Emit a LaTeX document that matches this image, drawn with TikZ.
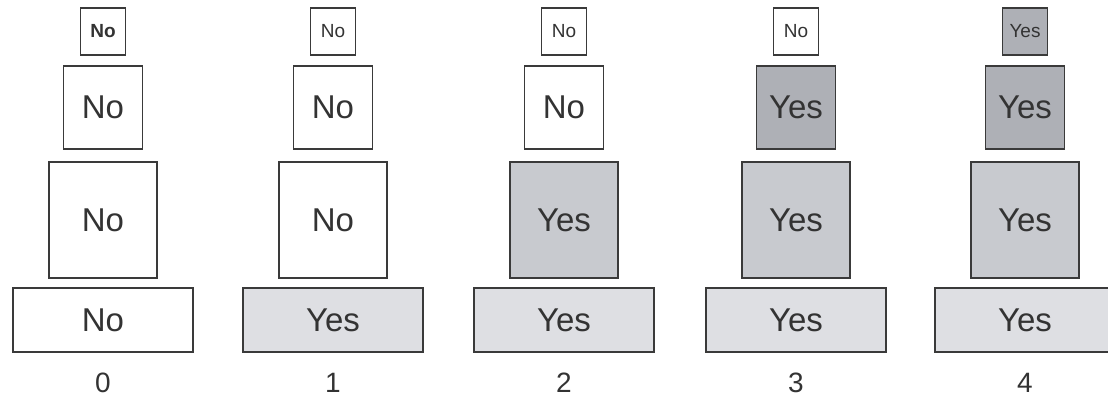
\documentclass[tikz,border=0pt]{standalone}
\usepackage{fontspec}
\setmainfont{Liberation Sans}
\definecolor{lineC}{HTML}{3A3A3A}
\definecolor{txtC}{HTML}{333333}
\definecolor{fillA}{HTML}{DEDFE3}
\definecolor{fillB}{HTML}{C8CACF}
\definecolor{fillC}{HTML}{AEB0B6}
\tikzset{
  box/.style={draw=lineC, line width=1.6pt, rectangle, inner sep=0pt, text=txtC, font=\fontsize{33}{33}\selectfont},
  tinybox/.style={box, minimum width=45pt, minimum height=47pt, font=\fontsize{19}{19}\selectfont},
  smallbox/.style={box, minimum width=79pt, minimum height=83pt},
  largebox/.style={box, minimum width=108pt, minimum height=116pt},
  basebox/.style={box, minimum width=180pt, minimum height=64pt},
  wf/.style={fill=white},
  fa/.style={fill=fillA},
  fb/.style={fill=fillB},
  fc/.style={fill=fillC},
  lab/.style={text=txtC, font=\fontsize{28}{28}\selectfont, inner sep=0pt}
}
\begin{document}
\begin{tikzpicture}[x=1pt,y=-1pt]
\path[use as bounding box, clip] (0,0) rectangle (1108,401);
\fill[white] (0,0) rectangle (1108,401);
% column 0
\node[tinybox,wf] (t0) at (103,31.5) {\textbf{No}};
\node[smallbox,wf] (s0) at (103,107.5) {No};
\node[largebox,wf] (l0) at (103,220) {No};
\node[basebox,wf] (b0) at (103,320) {No};
\node[lab] (n0) at (103,383) {0};
% column 1
\node[tinybox,wf] (t1) at (333,31.5) {No};
\node[smallbox,wf] (s1) at (333,107.5) {No};
\node[largebox,wf] (l1) at (333,220) {No};
\node[basebox,fa] (b1) at (333,320) {Yes};
\node[lab] (n1) at (333,383) {1};
% column 2
\node[tinybox,wf] (t2) at (564,31.5) {No};
\node[smallbox,wf] (s2) at (564,107.5) {No};
\node[largebox,fb] (l2) at (564,220) {Yes};
\node[basebox,fa] (b2) at (564,320) {Yes};
\node[lab] (n2) at (564,383) {2};
% column 3
\node[tinybox,wf] (t3) at (796,31.5) {No};
\node[smallbox,fc] (s3) at (796,107.5) {Yes};
\node[largebox,fb] (l3) at (796,220) {Yes};
\node[basebox,fa] (b3) at (796,320) {Yes};
\node[lab] (n3) at (796,383) {3};
% column 4
\node[tinybox,fc] (t4) at (1025,31.5) {Yes};
\node[smallbox,fc] (s4) at (1025,107.5) {Yes};
\node[largebox,fb] (l4) at (1025,220) {Yes};
\node[basebox,fa] (b4) at (1025,320) {Yes};
\node[lab] (n4) at (1025,383) {4};
\end{tikzpicture}
\end{document}
